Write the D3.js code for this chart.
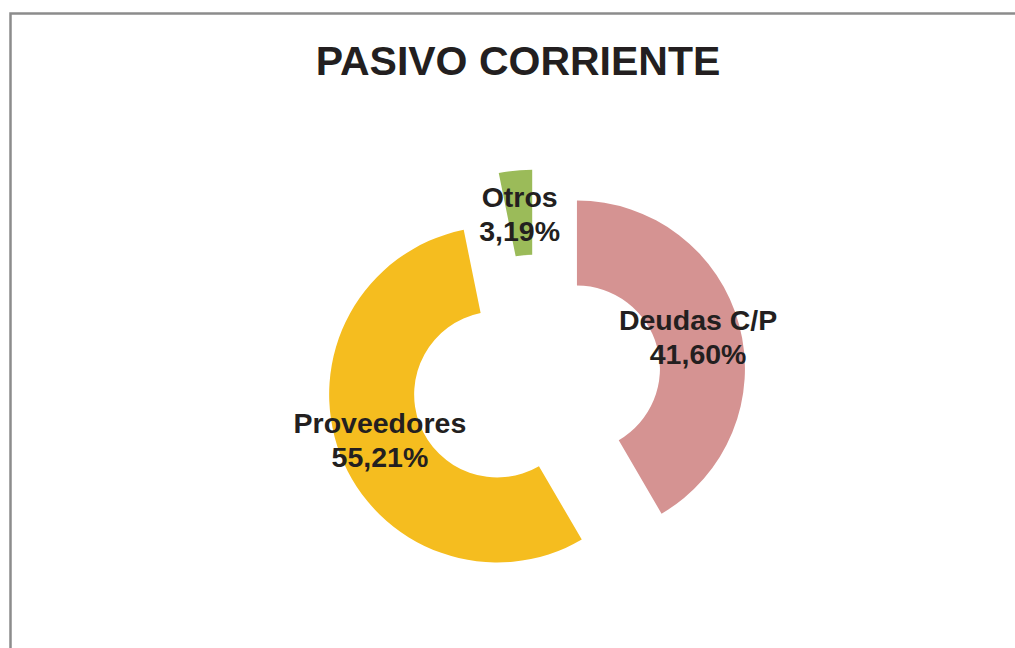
<!DOCTYPE html>
<html>
<head>
<meta charset="utf-8">
<script src="https://cdn.jsdelivr.net/npm/d3@7"></script>
<style>
  html, body { margin: 0; padding: 0; background: #ffffff; }
  svg { display: block; }
</style>
</head>
<body>
<svg id="chart" width="1015" height="648"></svg>
<script>
const title = "PASIVO CORRIENTE";
const categories = ["Deudas C/P", "Proveedores", "Otros"];
const values = [41.60, 55.21, 3.19];
const valueLabels = ["41,60%", "55,21%", "3,19%"];
const colors = ["#d59392", "#f5bd1f", "#9bbb59"];

const svg = d3.select("#chart");

// chart frame (extends past right/bottom edges)
svg.append("rect")
  .attr("x", 10.5).attr("y", 13.5)
  .attr("width", 1015).attr("height", 700)
  .attr("fill", "#ffffff")
  .attr("stroke", "#8c8c8c")
  .attr("stroke-width", 2.5);

svg.append("text")
  .attr("x", 518).attr("y", 75)
  .attr("text-anchor", "middle")
  .attr("font-family", "Liberation Sans, Arial, sans-serif")
  .attr("font-weight", "bold")
  .attr("font-size", 41)
  .attr("fill", "#231f20")
  .text(title);

const cx = 536.4, cy = 379.5;
const outerR = 168, innerR = 83, explode = 42;

const data = categories.map((c, i) => ({ cat: c, value: values[i], label: valueLabels[i], color: colors[i] }));
const pie = d3.pie().sort(null).value(d => d.value).startAngle(0).endAngle(2 * Math.PI);
const arc = d3.arc().innerRadius(innerR).outerRadius(outerR);
const arcs = pie(data);

const g = svg.append("g").attr("transform", `translate(${cx},${cy})`);

const slices = g.selectAll("g.slice").data(arcs).join("g")
  .attr("class", "slice")
  .attr("transform", d => {
    const a = (d.startAngle + d.endAngle) / 2;
    return `translate(${explode * Math.sin(a)},${-explode * Math.cos(a)})`;
  });

slices.append("path")
  .attr("d", arc)
  .attr("fill", d => d.data.color);

slices.each(function(d) {
  const [x, y] = arc.centroid(d);
  const t = d3.select(this).append("text")
    .attr("text-anchor", "middle")
    .attr("font-family", "Liberation Sans, Arial, sans-serif")
    .attr("font-weight", "bold")
    .attr("font-size", 28.5)
    .attr("fill", "#231f20");
  t.append("tspan").attr("x", x).attr("y", y - 6).text(d.data.cat);
  t.append("tspan").attr("x", x).attr("y", y + 28).text(d.data.label);
});
</script>
</body>
</html>
